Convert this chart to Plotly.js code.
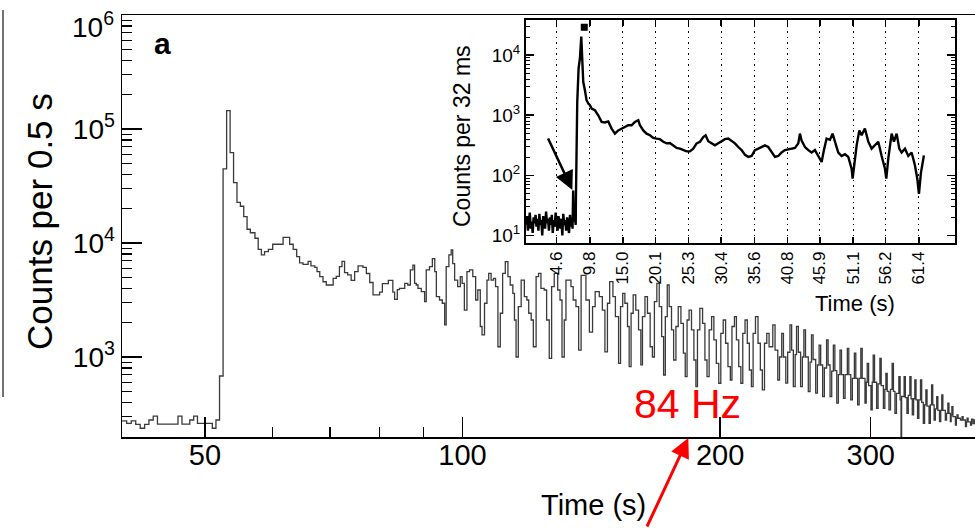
<!DOCTYPE html>
<html>
<head>
<meta charset="utf-8">
<script src="https://cdn.plot.ly/plotly-3.0.1.min.js"></script>
<style>html,body{margin:0;padding:0;background:#fff;}#chart{width:975px;height:528px;}</style>
</head>
<body>
<div id="chart"></div>
<script>
// ---- Main light curve: counts per 0.5 s (bin start time in s, counts) ----
const mainTime = [
40.0,40.5,41.0,41.5,42.0,42.5,43.0,43.5,44.0,46.5,47.0,48.0,48.5,49.0,51.0,51.5,
52.0,52.5,53.0,53.5,54.0,54.5,55.0,55.5,56.0,56.5,57.2,57.7,58.2,58.7,59.3,60.0,
61.7,62.8,63.4,64.0,64.5,65.1,66.0,66.5,67.2,67.6,68.1,68.7,69.3,70.6,71.2,71.8,
72.3,72.8,73.4,74.1,74.8,75.5,76.5,77.2,77.9,78.6,80.0,80.6,81.9,82.9,83.3,83.9,
84.4,85.6,86.3,86.9,87.5,87.9,88.3,88.7,89.5,90.3,90.7,91.5,92.2,92.8,93.2,94.0,
94.7,95.3,95.7,96.4,97.0,97.4,97.9,98.7,99.4,99.9,100.5,101.2,101.9,102.8,103.6,104.2,
104.9,105.4,106.1,106.8,107.3,108.0,108.7,109.3,110.0,110.7,111.4,112.2,113.0,113.7,114.5,115.0,
115.5,116.2,117.1,118.1,118.9,119.5,120.3,121.0,121.9,122.7,123.5,124.6,125.4,126.3,127.1,128.0,
129.2,130.0,130.7,131.5,132.1,133.9,134.7,135.7,136.7,137.6,139.4,140.7,141.9,142.9,144.5,145.7,
146.7,147.7,148.6,149.9,150.9,152.2,153.0,153.9,154.8,155.9,156.6,157.4,158.3,159.4,160.6,161.6,
162.3,163.4,164.5,165.7,166.7,167.6,168.7,169.8,170.9,171.8,172.6,173.5,174.4,175.5,176.5,177.6,
178.7,180.0,181.2,182.1,183.0,184.0,185.2,186.4,187.4,188.2,189.4,190.8,192.0,193.1,194.2,195.5,
196.7,198.0,199.3,200.4,201.7,203.0,204.3,205.6,206.5,207.9,209.0,210.3,211.5,212.6,213.9,215.2,
216.4,217.6,218.6,220.0,221.5,222.9,224.1,225.4,226.8,228.2,230.5,231.9,233.6,234.7,236.1,237.2,
238.7,239.9,241.4,242.5,243.6,244.8,245.7,246.9,248.4,249.6,250.6,251.7,253.6,254.8,255.8,256.9,
258.7,259.9,261.1,262.2,263.6,264.8,266.4,267.5,268.9,270.1,271.3,272.4,273.8,275.0,276.2,277.3,
278.8,280.0,281.7,282.8,284.3,285.5,287.1,288.2,289.6,290.8,292.1,293.2,295.4,296.4,297.2,298.3,
300.2,301.2,302.0,303.1,304.8,306.0,307.5,308.6,310.4,311.6,312.5,313.6,315.1,316.4,317.8,318.9,
320.2,321.5,323.6,324.7,325.5,326.0,328.2,329.3,330.7,331.9,333.3,334.4,335.5,336.7,337.8,338.9,
340.3,341.5,343.0,344.1,345.6,346.8,348.0,349.1,351.0,352.2,353.4,354.5,355.8,357.0,358.3,359.4,
361.0,362.2,363.2,364.3,366.7,367.9,369.2,370.3,371.7,372.5,373.2,374.3,376.8,377.8,378.4,379.5,
381.9,383.0,383.6,384.7,387.1,388.2,388.8,389.9,392.4,393.5,395.0,396.5,398.0,400.0
];
const mainCounts = [
275,262,275,256,237,256,280,303,258,303,258,280,303,262,237,280,
681,44600,145000,62000,33800,22700,21000,17000,13200,12300,11000,8800,7850,8400,8800,9750,
11200,9750,8800,7600,6700,6500,6900,6300,6100,5600,5060,4570,4280,4900,5100,6200,
6900,5500,5250,4700,5600,6300,6100,5400,4500,3500,3700,4400,4700,3700,3200,3900,
4000,4430,4280,5800,6400,4430,4280,4000,3740,3060,5800,6200,7300,5600,3380,3160,
2960,1910,6200,7850,8700,6600,4730,4140,5060,4430,2580,5600,5800,5060,3160,3870,
1850,1560,2960,4730,5420,4730,4900,4140,1230,2420,5420,6860,5060,4280,3620,2110,
1000,2760,4730,3380,3160,2420,2110,1230,5060,5420,4000,3870,2110,973,4140,5420,
3870,3160,1000,2110,4730,4140,3160,2760,1150,5200,3160,1650,2760,3740,3380,2580,
1110,2960,4590,3380,2260,880,2760,3620,2960,1850,822,2420,3500,2580,1730,851,
2260,3380,2420,1230,1000,3060,4430,2760,1510,695,2260,4280,2760,1730,941,1850,
2760,1970,1080,672,2110,2580,1730,941,549,1730,2670,1970,941,672,1730,2260,
1410,880,588,1610,2110,1320,822,628,1850,2260,1410,822,588,1610,2110,1320,
769,549,1610,2260,1320,769,514,1320,1610,1230,1910,1150,628,1000,1610,1000,
590,1100,1910,1150,549,1050,1850,1100,549,1000,1730,1000,497,900,1560,950,
481,850,1270,850,449,800,1410,850,449,750,1270,760,393,700,1150,700,
434,700,1190,700,420,650,1080,650,380,650,1190,650,393,600,880,560,
343,600,1040,600,355,580,973,560,355,520,719,500,343,520,880,500,
321,480,672,420,190,450,672,440,321,460,672,430,310,430,628,420,
290,420,628,400,262,380,514,370,262,380,568,380,280,350,449,340,
271,340,465,340,280,320,393,320,271,310,367,300,253,290,310,290,
280,280,300,280,245,270,290,270,253,285,260,280,255,255
];

// ---- Inset: counts per 32 ms (time in s, counts) ----
const insetTime = [
-0.2,-0.05,0.1,0.25,0.4,0.55,0.7,0.85,1.0,1.15,1.3,1.45,1.6,1.75,1.9,2.05,2.2,2.35,2.5,2.65,
2.8,2.95,3.1,3.25,3.4,3.55,3.7,3.85,4.0,4.15,4.3,4.45,4.6,4.75,4.9,5.05,5.2,5.35,5.5,5.65,
5.8,5.95,6.1,6.25,6.4,6.55,6.7,6.85,7.0,7.1,7.2,7.3,7.45,7.6,
7.63,7.84,8.05,8.26,8.47,8.62,8.78,9.04,9.3,9.57,9.83,10.09,10.61,11.13,11.66,12.18,12.70,13.23,13.75,14.27,
14.79,15.32,15.84,16.36,16.88,17.41,17.67,18.19,18.71,19.24,19.76,20.28,20.80,21.33,21.85,22.37,22.90,23.42,23.94,24.46,
24.99,25.51,26.03,26.56,27.08,27.60,27.97,28.38,28.91,29.43,29.95,30.48,31.00,31.52,32.04,32.57,33.09,33.61,34.14,34.66,
35.18,35.70,36.23,36.75,37.27,37.79,38.32,38.84,39.36,39.88,40.41,40.93,41.45,41.98,42.50,42.76,43.02,43.55,44.07,44.59,
45.11,45.64,46.16,46.52,46.94,47.47,47.88,48.25,48.77,49.29,49.82,50.34,50.86,51.02,51.28,51.65,52.07,52.43,52.95,53.48,
54.00,54.52,55.04,55.57,56.09,56.30,56.61,57.14,57.50,57.92,58.34,58.70,59.23,59.75,60.27,60.79,61.16,61.42,61.73,62.20
];
const insetCounts = [
15,21,12,18,24,13,17,11,20,16,22,14,19,12,23,15,18,10,21,17,
13,25,16,19,12,20,15,22,11,18,14,24,16,12,21,17,13,19,10,23,
15,18,12,20,16,11,22,14,19,13,56,17,21,15,
40,1670,6000,8800,20300,6800,3600,2600,1780,1560,1470,1290,1210,1000,775,760,790,600,494,560,
600,641,681,680,775,825,681,560,494,464,420,409,400,363,341,345,310,286,278,263,
251,251,278,341,363,434,464,369,341,316,341,369,400,409,369,341,296,263,219,203,
210,263,278,296,316,296,240,203,210,240,263,270,278,286,341,494,380,296,263,240,
263,210,167,263,409,390,494,363,240,210,225,203,129,88,150,316,560,464,600,363,
278,316,363,210,129,88,190,494,363,494,278,240,278,210,240,147,88,49,110,215
];
const markerTime = [8.94];
const markerCounts = [29000];

// ---- Tick labels ----
const mainXTicks = [50, 100, 200, 300];
const mainXTickText = ['50', '100', '200', '300'];
const mainXMinor = [60, 70, 80, 90];
const topXTicks = [50, 60, 70, 80, 90, 100, 200, 300];
const mainYTicks = [1e3, 1e4, 1e5];
const mainYTickText = ['10<sup>3</sup>', '10<sup>4</sup>', '10<sup>5</sup>'];
const mainYMinor = [200,300,400,500,600,700,800,900,2e3,3e3,4e3,5e3,6e3,7e3,8e3,9e3,
  2e4,3e4,4e4,5e4,6e4,7e4,8e4,9e4,2e5,3e5,4e5,5e5,6e5,7e5,8e5,9e5];
const insetXTicks = [4.6, 9.8, 15.0, 20.1, 25.3, 30.4, 35.6, 40.8, 45.9, 51.1, 56.2, 61.4];
const insetXTickText = ['4.6','9.8','15.0','20.1','25.3','30.4','35.6','40.8','45.9','51.1','56.2','61.4'];
const insetYTicks = [10, 100, 1000, 10000];
const insetYTickText = ['10<sup>1</sup>', '10<sup>2</sup>', '10<sup>3</sup>', '10<sup>4</sup>'];
const insetYMinor = [20,30,40,50,60,70,80,90,200,300,400,500,600,700,800,900,
  2000,3000,4000,5000,6000,7000,8000,9000,20000,30000];

const FONT = 'Liberation Sans, Arial, Helvetica, sans-serif';

const traces = [
  {x: mainTime, y: mainCounts, type: 'scatter', mode: 'lines',
   line: {shape: 'hv', color: '#3a3a3a', width: 1.3}, xaxis: 'x', yaxis: 'y', hoverinfo: 'skip'},
  {x: insetTime, y: insetCounts, type: 'scatter', mode: 'lines',
   line: {color: '#000', width: 2.4}, xaxis: 'x2', yaxis: 'y2', hoverinfo: 'skip'},
  {x: markerTime, y: markerCounts, type: 'scatter', mode: 'markers',
   marker: {symbol: 'square', size: 7, color: '#000'}, xaxis: 'x2', yaxis: 'y2', hoverinfo: 'skip'}
];

function ann(text, x, y, size, extra) {
  return Object.assign({text: text, xref: 'paper', yref: 'paper', x: x, y: y,
    xanchor: 'center', yanchor: 'middle', showarrow: false,
    font: {size: size, family: FONT, color: '#000'}}, extra || {});
}

const layout = {
  width: 975, height: 528,
  margin: {l: 122, r: 0, t: 15, b: 91},
  paper_bgcolor: '#fff', plot_bgcolor: '#fff',
  showlegend: false,
  font: {family: FONT, color: '#000'},
  xaxis: {
    type: 'log', range: [1.602, 2.599], domain: [0, 1], anchor: 'y',
    showline: true, linecolor: '#000', linewidth: 1.5, mirror: true,
    showgrid: false, zeroline: false,
    tickmode: 'array', tickvals: mainXTicks, ticktext: mainXTickText,
    ticks: 'inside', ticklen: 20, tickwidth: 1.5, tickcolor: '#000',
    ticklabelstandoff: -8,
    tickfont: {size: 29, family: FONT, color: '#000'},
    minor: {tickmode: 'array', tickvals: mainXMinor, ticks: 'inside', ticklen: 10, tickwidth: 1.3, tickcolor: '#000', showgrid: false}
  },
  xaxis3: {
    type: 'log', range: [1.602, 2.599], overlaying: 'x', side: 'top', anchor: 'y',
    showline: false, showgrid: false, zeroline: false, showticklabels: false,
    tickmode: 'array', tickvals: topXTicks, ticks: 'outside', ticklen: 8, tickwidth: 1.3, tickcolor: '#000'
  },
  yaxis: {
    type: 'log', range: [2.298, 6.0], domain: [0, 1], anchor: 'x',
    showline: true, linecolor: '#000', linewidth: 1.5, mirror: false,
    showgrid: false, zeroline: false,
    tickmode: 'array', tickvals: mainYTicks, ticktext: mainYTickText,
    ticks: 'inside', ticklen: 20, tickwidth: 1.5, tickcolor: '#000',
    tickfont: {size: 28, family: FONT, color: '#000'},
    minor: {tickmode: 'array', tickvals: mainYMinor, ticks: 'inside', ticklen: 10, tickwidth: 1.2, tickcolor: '#000', showgrid: false}
  },
  xaxis2: {
    domain: [0.4736, 0.976], anchor: 'y2', range: [-0.2, 67],
    showline: true, linecolor: '#000', linewidth: 2, mirror: 'ticks',
    zeroline: false,
    showgrid: true, gridcolor: '#000', gridwidth: 1, griddash: '1.5px,4px',
    tickmode: 'array', tickvals: insetXTicks, ticktext: insetXTickText, tickangle: -90,
    ticks: 'inside', ticklen: 6, tickwidth: 1.5, tickcolor: '#000',
    tickfont: {size: 17, family: FONT, color: '#000'}
  },
  yaxis2: {
    type: 'log', domain: [0.4604, 0.988], anchor: 'x2', range: [0.88, 4.583],
    showline: true, linecolor: '#000', linewidth: 2, mirror: 'ticks',
    showgrid: false, zeroline: false,
    tickmode: 'array', tickvals: insetYTicks, ticktext: insetYTickText,
    ticks: 'inside', ticklen: 8, tickwidth: 1.5, tickcolor: '#000',
    tickfont: {size: 19, family: FONT, color: '#000'},
    minor: {tickmode: 'array', tickvals: insetYMinor, ticks: 'inside', ticklen: 4, tickwidth: 1, tickcolor: '#000', showgrid: false}
  },
  shapes: [
    {type: 'line', xref: 'paper', yref: 'paper', x0: -0.1395, x1: -0.1395, y0: 0.0948, y1: 1.012,
     line: {color: '#444', width: 1.5}}
  ],
  annotations: [
    ann('<b>a</b>', 0.0469, 0.9336, 30),
    ann('10<sup>6</sup>', -0.0075, 0.976, 28, {xanchor: 'right'}),
    ann('Counts per 0.5 s', -0.0961, 0.5095, 35, {textangle: -90}),
    ann('Time (s)', 0.5533, -0.161, 29),
    ann('84 Hz', 0.6624, 0.0782, 41, {font: {size: 41, family: FONT, color: '#ff0000'}}),
    {text: '', xref: 'paper', yref: 'paper', x: 0.6639, y: -0.0024, ax: -42, ay: 100,
     showarrow: true, arrowhead: 2, arrowsize: 1.3, arrowwidth: 3, arrowcolor: '#ff0000'},
    ann('Time (s)', 0.8593, 0.3152, 22),
    ann('Counts per 32 ms', 0.3986, 0.7133, 23, {textangle: -90}),
    {text: '', xref: 'paper', yref: 'paper', x: 0.528, y: 0.5853, ax: -25, ay: -53,
     showarrow: true, arrowhead: 2, arrowsize: 1.5, arrowwidth: 2.5, arrowcolor: '#000'}
  ]
};

Plotly.newPlot('chart', traces, layout, {staticPlot: true, displayModeBar: false});
</script>
</body>
</html>
